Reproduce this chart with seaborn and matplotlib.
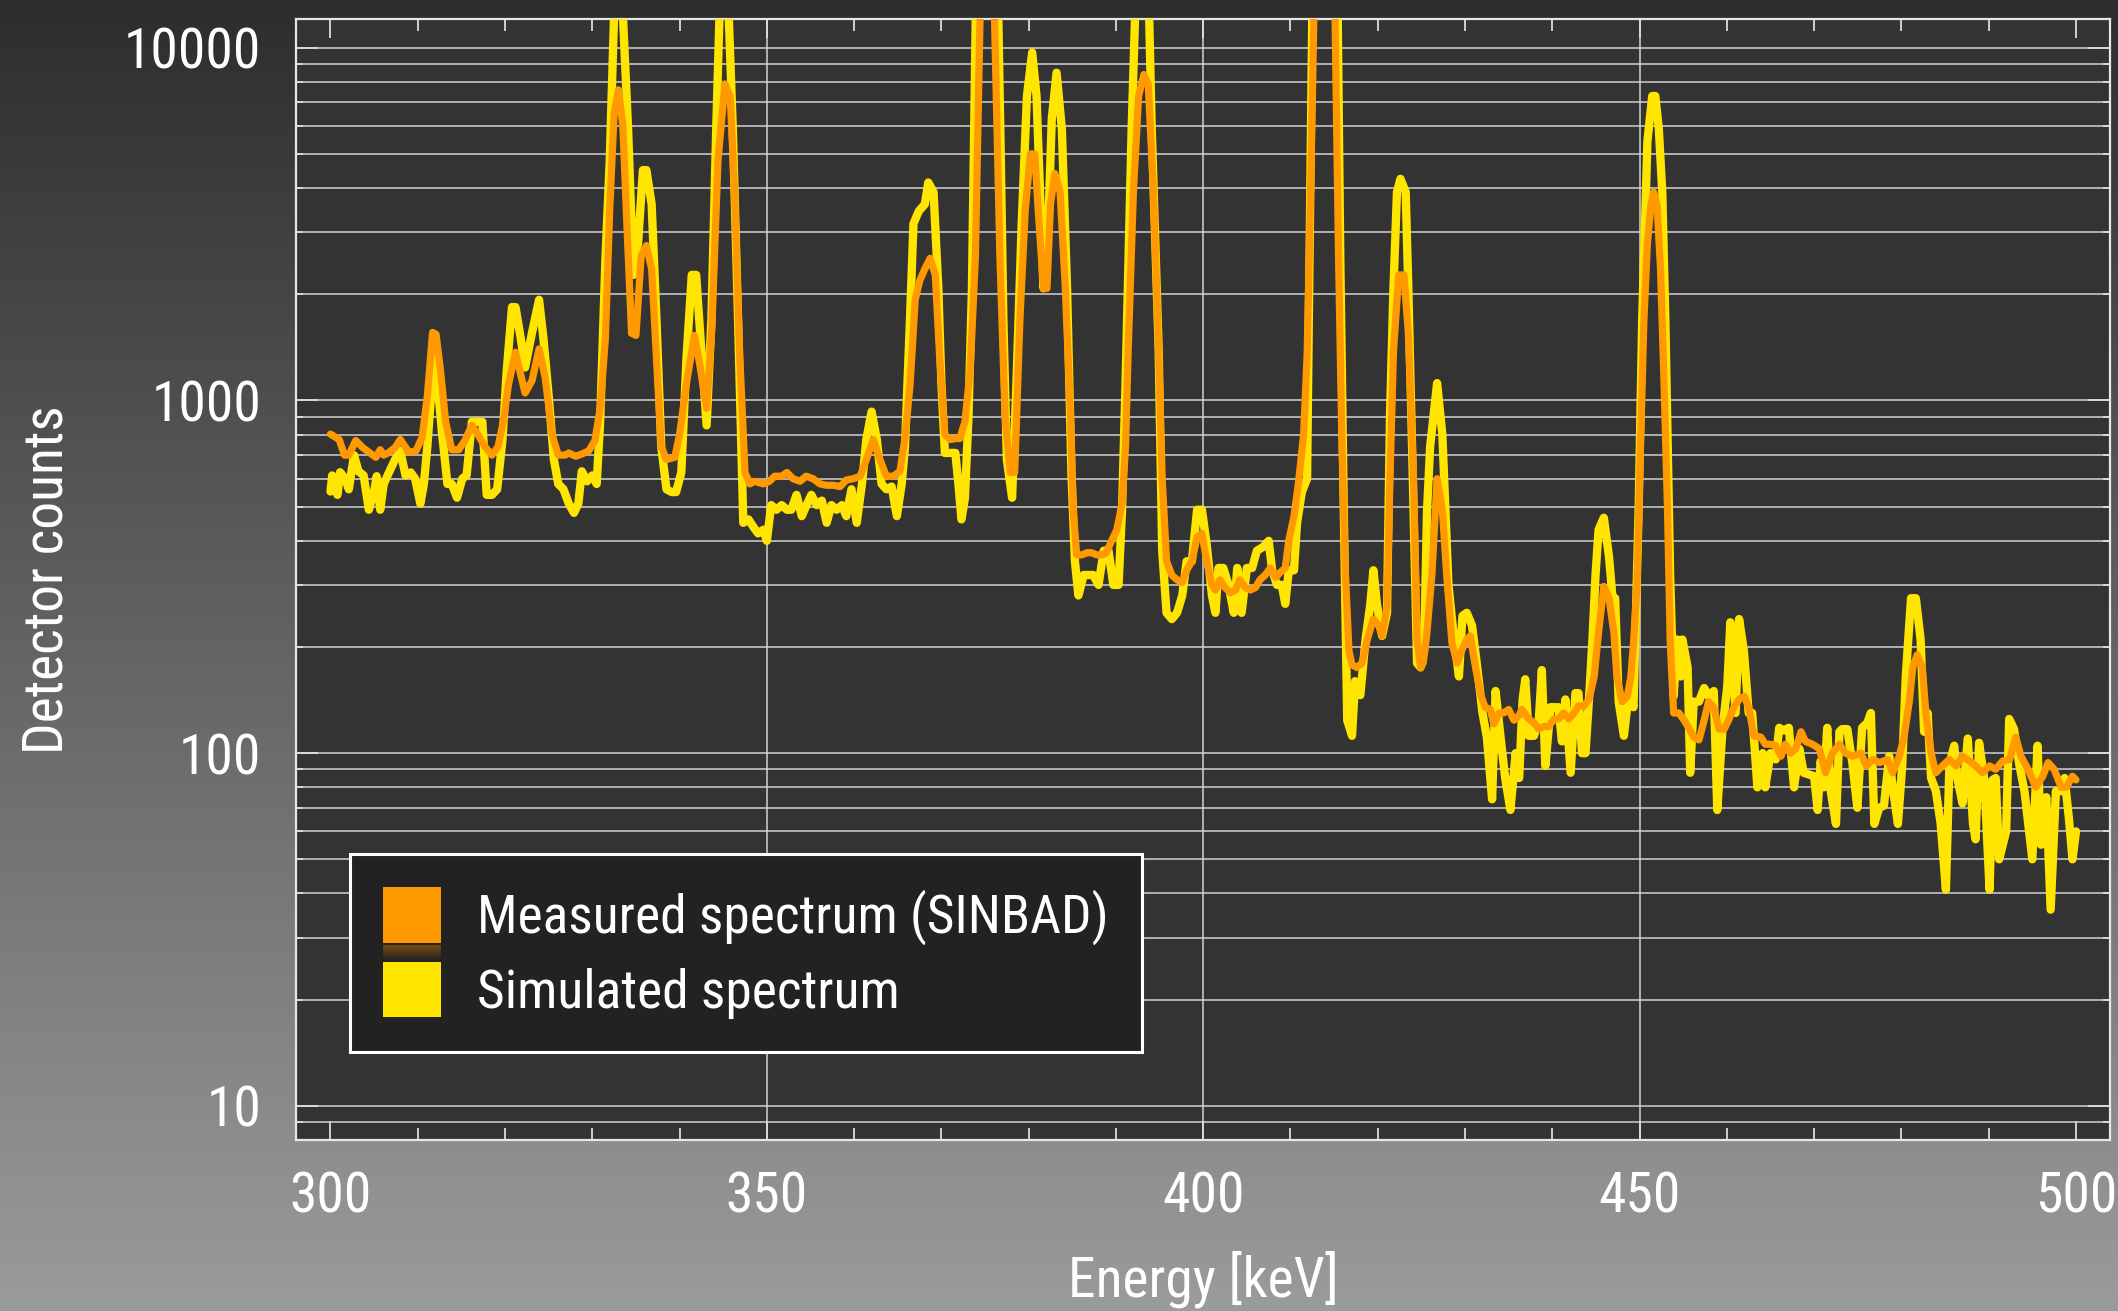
import numpy as np
import pandas as pd
import matplotlib
matplotlib.use("Agg")
import matplotlib.pyplot as plt
import seaborn as sns
from matplotlib import font_manager
from matplotlib.patches import Patch
from matplotlib.colors import LinearSegmentedColormap
from matplotlib.ticker import LogLocator, MultipleLocator, NullFormatter

# Measured gamma spectrum (SINBAD benchmark), energy in keV and counts
meas_energy = [
    300.0, 301.0, 301.6, 302.1, 302.9, 303.7, 305.2, 305.7, 306.1, 306.6, 307.4, 308.0, 309.0, 309.8,
    310.5, 311.1, 311.7, 312.1, 312.6, 313.2, 313.9, 314.7, 315.4, 316.2, 316.9, 317.7, 318.5, 319.2,
    319.8, 320.4, 321.2, 321.6, 322.3, 323.1, 323.9, 324.6, 325.4, 326.1, 326.9, 327.3, 328.1, 328.8,
    329.6, 330.3, 330.9, 331.5, 332.0, 332.5, 333.0, 333.5, 334.0, 334.5, 335.0, 335.6, 336.2, 336.8,
    337.35, 337.9, 338.5, 339.45, 340.0, 340.8, 341.7, 342.3, 343.1, 343.7, 344.4, 345.2, 345.8, 346.3,
    346.9, 347.5, 348.05, 348.6, 349.6, 350.3, 350.9, 351.7, 352.3, 353.0, 353.8, 354.5, 355.3, 356.1,
    356.8, 357.6, 358.4, 359.1, 359.9, 360.7, 361.4, 362.2, 362.96, 363.7, 364.5, 365.25, 365.8, 366.4,
    367.0, 367.5, 368.1, 368.7, 369.3, 369.8, 370.4, 371.0, 371.6, 372.1, 372.7, 373.3, 373.9, 374.5,
    375.0, 375.5, 376.0, 376.7, 377.3, 377.9, 378.4, 379.0, 379.6, 380.2, 380.7, 381.1, 381.7, 382.1,
    382.5, 383.0, 383.6, 384.2, 384.8, 385.1, 385.5, 386.1, 386.7, 387.2, 387.8, 388.4, 388.9, 389.5,
    390.1, 390.7, 391.1, 391.4, 392.0, 392.6, 393.2, 393.7, 394.3, 394.9, 395.3, 395.8, 396.4, 397.0,
    397.6, 398.1, 398.7, 399.3, 399.85, 400.4, 401.0, 401.4, 401.9, 402.5, 403.1, 403.7, 404.2, 404.8,
    405.4, 406.0, 406.5, 407.1, 407.7, 408.3, 408.8, 409.4, 409.8, 410.4, 410.9, 411.5, 411.9, 412.3,
    412.7, 413.2, 413.7, 414.2, 414.7, 415.1, 415.5, 415.9, 416.3, 416.7, 417.05, 417.6, 418.2, 418.8,
    419.5, 420.1, 420.5, 421.06, 421.4, 421.8, 422.4, 423.0, 423.5, 424.1, 424.5, 424.9, 425.2, 425.6,
    426.2, 426.8, 427.4, 427.9, 428.5, 429.1, 429.6, 430.2, 430.6, 431.2, 431.8, 432.3, 432.9, 433.3,
    433.9, 434.4, 435.0, 435.6, 436.2, 436.5, 437.3, 437.9, 438.45, 439.0, 439.6, 440.2, 440.7, 441.3,
    441.9, 442.5, 443.0, 443.6, 444.2, 444.8, 445.3, 445.9, 446.5, 447.05, 447.4, 448.0, 448.6, 449.0,
    449.3, 449.7, 450.1, 450.5, 450.9, 451.3, 451.6, 452.0, 452.4, 452.8, 453.2, 453.5, 453.9, 454.5,
    455.1, 455.7, 456.2, 456.8, 457.4, 457.9, 458.5, 459.1, 459.7, 460.2, 460.8, 461.4, 462.0, 462.5,
    463.1, 463.9, 464.4, 465.0, 465.6, 466.2, 466.7, 467.3, 467.9, 468.5, 469.0, 469.8, 470.6, 471.3,
    472.1, 472.9, 473.6, 474.4, 475.35, 476.0, 476.7, 477.5, 478.4, 479.0, 479.75, 480.3, 480.9, 481.3,
    481.8, 482.4, 482.8, 483.4, 483.95, 484.7, 485.5, 486.25, 487.0, 487.8, 488.5, 489.3, 490.1, 490.8,
    491.6, 492.4, 493.1, 493.7, 494.5, 495.4, 496.2, 496.8, 497.5, 498.3, 498.9, 499.6, 500.0,
]
meas_counts = [
    803, 775, 700, 700, 770, 735, 690, 725, 700, 710, 735, 775, 712, 720,
    785, 1030, 1560, 1540, 1220, 870, 725, 725, 770, 850, 800, 740, 700, 740,
    870, 1110, 1370, 1240, 1050, 1140, 1400, 1160, 800, 700, 700, 710, 695, 705,
    720, 770, 950, 1500, 3500, 6500, 7600, 6000, 3000, 1550, 1530, 2570, 2750, 2360,
    1330, 740, 680, 690, 800, 1120, 1530, 1270, 950, 1600, 4800, 7900, 7300, 3900,
    1330, 625, 580, 590, 580, 590, 610, 610, 625, 600, 590, 610, 600, 580,
    575, 575, 570, 595, 600, 610, 680, 775, 680, 610, 610, 630, 775, 1100,
    1930, 2180, 2360, 2530, 2270, 1330, 800, 775, 780, 780, 870, 1220, 2570, 15000,
    30000, 30000, 15000, 2580, 900, 625, 625, 1700, 3440, 5000, 5000, 3440, 2080, 2080,
    3600, 4400, 3900, 2080, 900, 490, 365, 365, 370, 370, 365, 365, 370, 400,
    430, 510, 740, 1380, 3900, 7300, 8400, 7900, 3900, 1380, 600, 350, 320, 310,
    305, 330, 350, 410, 420, 350, 300, 290, 310, 295, 285, 290, 310, 295,
    290, 295, 310, 320, 335, 315, 325, 335, 400, 470, 580, 800, 1330, 3900,
    13000, 30000, 45000, 45000, 30000, 12500, 2600, 740, 320, 195, 178, 175, 180, 210,
    240, 230, 215, 260, 600, 1380, 2270, 2270, 1560, 600, 210, 175, 180, 215,
    320, 600, 490, 320, 205, 180, 195, 210, 215, 175, 146, 135, 133, 121,
    130, 130, 133, 124, 128, 133, 125, 122, 117, 119, 119, 125, 125, 130,
    125, 130, 136, 136, 142, 165, 220, 297, 275, 220, 165, 140, 145, 165,
    205, 297, 735, 1700, 2800, 3580, 3900, 3580, 2360, 1120, 490, 210, 130, 130,
    124, 117, 111, 109, 124, 140, 135, 117, 117, 124, 135, 142, 145, 135,
    112, 111, 106, 106, 105, 98, 106, 100, 103, 115, 108, 106, 103, 88,
    100, 106, 100, 98, 100, 92, 96, 94, 96, 88, 98, 111, 140, 175,
    190, 175, 130, 100, 88, 92, 96, 92, 98, 95, 92, 88, 92, 90,
    95, 96, 111, 98, 90, 80, 86, 94, 90, 80, 80, 86, 84,
]

# Simulated spectrum, energy in keV and counts
sim_energy = [
    300.0, 300.2, 300.8, 301.1, 301.7, 302.1, 302.7, 303.2, 303.8, 304.4, 305.0, 305.3, 305.7, 306.1,
    306.7, 307.4, 308.0, 308.6, 309.2, 309.7, 310.3, 310.7, 311.1, 311.6, 312.0, 312.8, 313.4, 313.9,
    314.5, 315.1, 315.6, 316.2, 316.8, 317.4, 317.9, 318.5, 319.1, 319.7, 320.2, 320.8, 321.2, 321.8,
    322.3, 323.1, 323.9, 324.4, 325.0, 325.6, 326.1, 326.7, 327.3, 327.9, 328.4, 328.8, 329.4, 330.0,
    330.5, 330.9, 331.5, 332.0, 332.5, 333.0, 333.5, 334.1, 334.7, 335.25, 335.8, 336.2, 336.8, 337.35,
    337.9, 338.5, 339.1, 339.6, 340.2, 340.8, 341.4, 341.9, 342.5, 343.1, 343.65, 344.2, 344.6, 345.1,
    345.6, 346.1, 346.7, 347.3, 347.9, 348.4, 349.0, 349.6, 350.0, 350.5, 351.1, 351.7, 352.3, 352.8,
    353.4, 354.0, 354.55, 355.1, 355.7, 356.3, 356.85, 357.4, 358.0, 358.6, 359.1, 359.7, 360.3, 360.9,
    361.4, 362.0, 362.6, 363.15, 363.7, 364.3, 364.9, 365.45, 365.83, 366.4, 366.8, 367.4, 368.1, 368.5,
    369.1, 369.65, 370.0, 370.4, 371.0, 371.6, 371.95, 372.3, 372.7, 373.1, 373.5, 374.0, 374.5, 375.0,
    375.5, 376.0, 376.5, 376.8, 377.1, 377.5, 378.1, 378.6, 379.2, 379.8, 380.4, 380.9, 381.3, 381.7,
    382.3, 382.65, 383.2, 383.8, 384.4, 384.9, 385.3, 385.7, 386.3, 386.9, 387.4, 388.0, 388.6, 389.15,
    389.7, 390.3, 390.7, 391.1, 391.8, 392.2, 392.7, 393.2, 393.7, 394.1, 394.9, 395.3, 395.8, 396.4,
    397.0, 397.6, 398.1, 398.7, 399.3, 399.85, 400.4, 401.0, 401.4, 401.75, 402.3, 402.9, 403.5, 403.9,
    404.4, 405.0, 405.6, 406.15, 406.9, 407.5, 407.9, 408.45, 409.0, 409.4, 409.8, 410.4, 410.75, 411.3,
    411.9, 412.1, 412.5, 413.0, 413.5, 414.0, 414.5, 415.0, 415.4, 415.7, 416.1, 416.5, 417.05, 417.4,
    418.0, 418.6, 419.15, 419.5, 419.9, 420.5, 421.06, 421.4, 421.8, 422.2, 422.6, 423.2, 423.5, 424.1,
    424.5, 424.9, 425.3, 425.65, 426.0, 426.8, 427.4, 427.75, 428.1, 428.7, 429.3, 429.7, 430.2, 430.8,
    431.4, 432.0, 432.5, 433.1, 433.5, 434.05, 434.6, 435.2, 435.8, 436.2, 436.6, 436.9, 437.3, 437.9,
    438.45, 438.8, 439.2, 439.8, 440.4, 440.7, 441.1, 441.5, 442.1, 442.65, 443.0, 443.4, 443.8, 444.2,
    444.6, 444.95, 445.3, 445.9, 446.5, 446.9, 447.2, 447.6, 448.2, 448.8, 449.3, 449.9, 450.3, 450.9,
    451.45, 451.8, 452.2, 452.6, 452.95, 453.5, 453.9, 454.3, 454.7, 454.9, 455.5, 455.8, 456.2, 456.8,
    457.4, 457.9, 458.5, 458.9, 459.5, 460.05, 460.4, 461.0, 461.4, 461.95, 462.5, 462.9, 463.5, 464.1,
    464.4, 465.0, 465.6, 466.0, 466.5, 467.1, 467.7, 468.3, 468.8, 469.4, 470.0, 470.4, 470.75, 471.1,
    471.5, 471.9, 472.5, 472.9, 473.2, 473.8, 474.4, 474.95, 475.5, 476.1, 476.5, 476.9, 477.45, 478.0,
    478.6, 479.0, 479.6, 480.1, 480.5, 481.1, 481.65, 482.2, 482.6, 483.0, 483.4, 483.95, 484.5, 485.1,
    485.5, 486.05, 486.4, 487.0, 487.6, 488.2, 488.5, 488.9, 489.5, 490.1, 490.45, 490.8, 491.2, 492.0,
    492.35, 492.9, 493.5, 494.1, 495.0, 495.6, 496.0, 496.6, 497.1, 497.7, 498.3, 498.7, 499.2, 499.6,
    500.0,
]
sim_counts = [
    552, 613, 540, 626, 600, 560, 700, 630, 613, 490, 552, 610, 490, 580,
    625, 680, 720, 613, 625, 600, 510, 580, 740, 1100, 1320, 800, 580, 580,
    530, 600, 613, 870, 870, 870, 540, 540, 560, 770, 1220, 1840, 1840, 1500,
    1240, 1560, 1930, 1500, 1030, 680, 580, 560, 510, 480, 510, 630, 590, 613,
    580, 870, 2500, 4800, 12500, 18000, 12500, 5900, 2270, 2800, 4500, 4500, 3600, 1700,
    740, 560, 550, 550, 625, 1330, 2270, 2270, 1380, 850, 1700, 5900, 13000, 20000,
    13000, 5900, 1700, 450, 460, 440, 420, 430, 400, 505, 490, 505, 490, 490,
    540, 470, 505, 540, 505, 520, 450, 505, 490, 505, 470, 560, 450, 580,
    775, 930, 775, 580, 560, 570, 470, 580, 740, 1700, 3170, 3440, 3600, 4150,
    3900, 2080, 1120, 710, 710, 710, 580, 460, 530, 900, 2080, 16000, 40000, 60000,
    60000, 40000, 13000, 5000, 1700, 680, 530, 1120, 3170, 7300, 9700, 7300, 3900, 2080,
    3440, 6300, 8500, 5900, 2080, 625, 350, 280, 320, 320, 320, 300, 375, 375,
    300, 300, 490, 1120, 5900, 12500, 22000, 25000, 16000, 5900, 1380, 375, 250, 240,
    250, 280, 350, 350, 490, 490, 390, 280, 250, 335, 335, 300, 250, 335,
    250, 335, 335, 375, 385, 400, 330, 300, 300, 265, 330, 330, 450, 550,
    600, 1700, 12500, 40000, 70000, 80000, 60000, 30000, 13000, 2600, 500, 124, 112, 160,
    146, 210, 265, 330, 265, 215, 250, 900, 2080, 3900, 4250, 3900, 2080, 490,
    180, 175, 195, 490, 740, 1120, 800, 490, 300, 215, 165, 245, 250, 230,
    175, 130, 111, 74, 150, 112, 85, 69, 100, 85, 142, 162, 112, 112,
    124, 172, 92, 135, 135, 135, 108, 142, 88, 148, 148, 100, 100, 142,
    210, 320, 430, 465, 360, 275, 275, 140, 112, 150, 135, 500, 1700, 5450,
    7300, 7300, 5900, 3900, 1700, 320, 145, 210, 165, 210, 175, 88, 140, 140,
    153, 145, 150, 69, 117, 155, 235, 130, 240, 195, 130, 130, 80, 100,
    80, 100, 96, 118, 116, 118, 80, 103, 88, 87, 86, 69, 95, 80,
    118, 78, 63, 115, 117, 117, 93, 70, 118, 122, 130, 63, 70, 71,
    98, 80, 63, 93, 165, 275, 275, 210, 115, 130, 85, 78, 63, 41,
    93, 105, 85, 72, 110, 63, 57, 107, 84, 41, 84, 85, 50, 60,
    125, 117, 93, 78, 50, 105, 55, 75, 36, 78, 78, 85, 65, 50,
    60,
]

x_ticks = [300, 350, 400, 450, 500]
y_ticks = [10, 100, 1000, 10000]
y_tick_labels = ["10", "100", "1000", "10000"]
series_labels = ["Measured spectrum (SINBAD)", "Simulated spectrum"]
x_title = "Energy [keV]"
y_title = "Detector counts"

ORANGE = "#ff9900"
YELLOW = "#ffe500"
GRID = "#d2d2d2"

sns.set_theme(style="dark")

# prefer a narrow sans face for all labels
installed = {f.name for f in font_manager.fontManager.ttflist}
narrow_prefs = ["Liberation Sans Narrow", "Roboto Condensed", "DejaVu Sans Condensed",
                "Open Sans Condensed", "Noto Sans Condensed", "Roboto", "Lato",
                "Liberation Sans"]
face = next((n for n in narrow_prefs if n in installed), "DejaVu Sans")
plt.rcParams["font.family"] = [face, "DejaVu Sans"]
narrow = face in narrow_prefs[:5]
fs_tick = 40 if narrow else 34
fs_label = 40 if narrow else 34
fs_leg = 38.5 if narrow else 33

W_PX, H_PX, DPI = 2118, 1311, 100
fig = plt.figure(figsize=(W_PX / DPI, H_PX / DPI), dpi=DPI)

# vertical background gradient behind everything
bg = fig.add_axes([0, 0, 1, 1], zorder=-10)
bg_cmap = LinearSegmentedColormap.from_list("bg", ["#2c2d2d", "#9a9c9b"])
bg.imshow(np.linspace(0, 1, 512)[:, None], aspect="auto", cmap=bg_cmap,
          extent=[0, 1, 0, 1], origin="upper")
bg.set_axis_off()

ax_l, ax_r, ax_t, ax_b = 296, 2110, 19, 1140
ax = fig.add_axes([ax_l / W_PX, (H_PX - ax_b) / H_PX,
                   (ax_r - ax_l) / W_PX, (ax_b - ax_t) / H_PX])
ax.set_facecolor("#333333")

sim = pd.DataFrame({"energy": sim_energy, "counts": sim_counts})
meas = pd.DataFrame({"energy": meas_energy, "counts": meas_counts})
sns.lineplot(data=sim, x="energy", y="counts", ax=ax, color=YELLOW, linewidth=6.0,
             estimator=None, sort=False, zorder=3)
sns.lineplot(data=meas, x="energy", y="counts", ax=ax, color=ORANGE, linewidth=5.2,
             estimator=None, sort=False, zorder=4)

ax.set_yscale("log")
ax.set_xlim(296.05, 503.9)
ax.set_ylim(8.0, 12070)

ax.set_xticks(x_ticks)
ax.set_xticklabels([str(v) for v in x_ticks])
ax.xaxis.set_minor_locator(MultipleLocator(10))
ax.set_yticks(y_ticks)
ax.set_yticklabels(y_tick_labels)
ax.yaxis.set_minor_locator(LogLocator(base=10, subs=np.arange(2, 10)))
ax.yaxis.set_minor_formatter(NullFormatter())

ax.tick_params(which="both", direction="in", bottom=True, top=True, left=True, right=True,
               color="#dcdcdc", labelcolor="white", labelsize=fs_tick, width=1.3)
ax.tick_params(axis="x", which="major", length=14, pad=22)
ax.tick_params(axis="x", which="minor", length=8.5)
ax.tick_params(axis="y", which="major", length=16, pad=25)
ax.tick_params(axis="y", which="minor", length=5)

ax.grid(True, axis="y", which="both", color=GRID, linewidth=1.1)
ax.grid(True, axis="x", which="major", color=GRID, linewidth=1.1)
ax.grid(False, axis="x", which="minor")
xgl = ax.xaxis.get_gridlines()
xgl[0].set_visible(False)
xgl[-1].set_visible(False)
ax.set_axisbelow(True)

for sp in ax.spines.values():
    sp.set_color("#e6e6e6")
    sp.set_linewidth(1.6)

ax.set_xlabel(x_title, fontsize=fs_label, color="white")
ax.xaxis.set_label_coords(0.5, -0.0985)
ax.set_ylabel(y_title, fontsize=fs_label, color="white")
ax.yaxis.set_label_coords(-0.1225, 0.5)

handles = [Patch(facecolor=ORANGE, edgecolor="none", label=series_labels[0]),
           Patch(facecolor=YELLOW, edgecolor="none", label=series_labels[1])]
leg = ax.legend(handles=handles, loc="lower left", bbox_to_anchor=(0.0298, 0.0785),
                borderaxespad=0, fontsize=fs_leg, frameon=True, fancybox=False,
                facecolor="#222222", edgecolor="white", framealpha=1,
                handlelength=1.03 * 40 / fs_leg, handleheight=1.17 * 40 / fs_leg,
                handletextpad=0.65 * 40 / fs_leg,
                borderpad=0.6 * 40 / fs_leg, labelspacing=0.3 * 40 / fs_leg)
leg.set_zorder(10)
leg.get_frame().set_linewidth(2.2)
for t in leg.get_texts():
    t.set_color("white")

# soft shading strip between the two legend swatches
fig.canvas.draw()
rend = fig.canvas.get_renderer()
b0 = leg.legend_handles[0].get_window_extent(rend)
b1 = leg.legend_handles[1].get_window_extent(rend)
gap_top, gap_bot = b0.y0 - 2, b1.y1 + 2
if gap_top > gap_bot:
    strip = fig.add_axes([b0.x0 / W_PX, gap_bot / H_PX, (b0.x1 - b0.x0) / W_PX,
                          (gap_top - gap_bot) / H_PX], zorder=20)
    strip_cmap = LinearSegmentedColormap.from_list("strip", ["#7a4c14", "#262422"])
    strip.imshow(np.linspace(0, 1, 64)[:, None], aspect="auto", cmap=strip_cmap,
                 extent=[0, 1, 0, 1], origin="upper")
    strip.set_axis_off()

fig.savefig("out.png", dpi=DPI)
